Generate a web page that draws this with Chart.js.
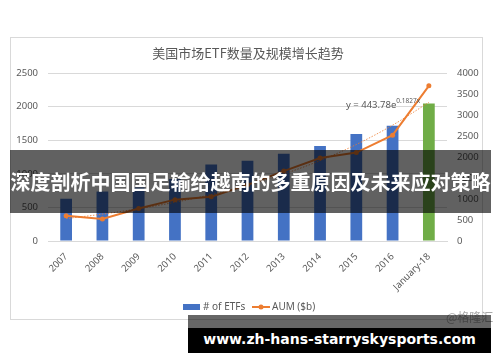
<!DOCTYPE html>
<html>
<head>
<meta charset="utf-8">
<script src="https://cdn.jsdelivr.net/npm/chart.js@4/dist/chart.umd.min.js"></script>
<style>
  html, body { margin:0; padding:0; background:#fff; }
  #wrap { position:relative; width:500px; height:362px; overflow:hidden; }
  #frame { position:absolute; left:10px; top:37px; width:473px; height:283px; border:1px solid #d9d9d9; box-sizing:border-box; }
  canvas { position:absolute; left:0; top:0; }
  .banner { position:absolute; left:10px; top:150px; width:481px; height:63px; background:rgba(0,0,0,0.62);
    color:#fff; font:bold 20px "Noto Sans CJK SC", sans-serif; line-height:63px; text-align:center; white-space:nowrap; }
  .mark { position:absolute; left:446px; top:308px; color:#aaa; font:12px "Noto Sans CJK SC", sans-serif; }
  .strip { position:absolute; left:188px; top:315px; width:303px; height:13px; background:rgba(0,0,0,0.6); }
  .site { position:absolute; left:188px; top:328px; width:303px; height:25px; background:#000; color:#fff;
    font:bold 14px "DejaVu Sans", sans-serif; line-height:23px; text-align:center; white-space:nowrap; }
</style>
</head>
<body>
<div id="wrap">
  <div id="frame"></div>
  <canvas id="etfChart" width="500" height="362"></canvas>
  <div class="banner">深度剖析中国国足输给越南的多重原因及未来应对策略</div>
  <div class="mark">@格隆汇</div>
  <div class="strip"></div>
  <div class="site">www.zh-hans-starryskysports.com</div>
</div>
<script>
// Data
const categories = ['2007','2008','2009','2010','2011','2012','2013','2014','2015','2016','January-18'];
const etfCount   = [629, 736, 797, 923, 1139, 1194, 1298, 1413, 1592, 1716, 2045];
const aum        = [600, 525, 775, 985, 1055, 1337, 1665, 1975, 2105, 2520, 3695];
const aumTrend   = [533, 640, 769, 922, 1107, 1329, 1595, 1914, 2298, 2758, 3300];
const leftTicks  = [0, 500, 1000, 1500, 2000, 2500];
const rightTicks = [0, 500, 1000, 1500, 2000, 2500, 3000, 3500, 4000];

const blue = '#4472C4', green = '#70AD47', orange = '#ED7D31', grey = '#595959';
const font = '"Noto Sans", sans-serif';

// title, equation and legend
const extras = {
  id: 'extras',
  afterDraw(chart) {
    const c = chart.ctx;
    c.save();
    c.fillStyle = grey;
    c.textAlign = 'center';
    c.textBaseline = 'middle';
    c.font = '13px "Noto Sans CJK SC", sans-serif';
    c.fillText('美国市场ETF数量及规模增长趋势', 248, 53);

    c.textAlign = 'left';
    c.textBaseline = 'alphabetic';
    c.font = '9.5px ' + font;
    c.fillText('y = 443.78e', 346, 108);
    const w = c.measureText('y = 443.78e').width;
    c.font = '6.5px ' + font;
    c.fillText('0.1827x', 346 + w, 103);

    // legend
    const ds = chart.data.datasets;
    c.textBaseline = 'middle';
    c.font = '10px ' + font;
    c.fillStyle = blue;
    c.fillRect(183, 304, 17, 6);
    c.fillStyle = grey;
    c.fillText(ds[0].label, 203, 307);
    c.strokeStyle = orange;
    c.lineWidth = 2;
    c.beginPath(); c.moveTo(252, 307); c.lineTo(270, 307); c.stroke();
    c.fillStyle = orange;
    c.beginPath(); c.arc(261, 307, 2.5, 0, Math.PI * 2); c.fill();
    c.fillStyle = grey;
    c.fillText(ds[1].label, 272, 307);
    c.restore();
  }
};

new Chart(document.getElementById('etfChart'), {
  type: 'bar',
  data: {
    labels: categories,
    datasets: [
      { type:'bar', label:'# of ETFs', data:etfCount, yAxisID:'y',
        backgroundColor: categories.map((_, i) => i === categories.length - 1 ? green : blue),
        barPercentage:0.9, categoryPercentage:0.36, order:3 },
      { type:'line', label:'AUM ($b)', data:aum, yAxisID:'y1', borderColor:orange, backgroundColor:orange,
        borderWidth:2, pointRadius:2.5, pointBackgroundColor:orange, pointBorderWidth:0, tension:0, order:1 },
      { type:'line', label:'trend', data:aumTrend, yAxisID:'y1', borderColor:'rgba(237,125,49,0.8)', borderWidth:1,
        borderDash:[1.5,1.5], pointRadius:0, cubicInterpolationMode:'monotone', order:2 }
    ]
  },
  options: {
    responsive:false,
    animation:false,
    layout:{ padding:{ left:10, right:10, top:73, bottom:0 } },
    plugins:{ legend:{ display:false }, tooltip:{ enabled:false } },
    scales:{
      x:{
        grid:{ display:false },
        border:{ color:'#d9d9d9' },
        ticks:{ color:grey, font:{ family:font, size:9.5 }, maxRotation:45, minRotation:45, padding:2 },
        afterFit(s) { s.height = 121; }
      },
      y:{
        position:'left', min:0, max:2500,
        afterBuildTicks(s) { s.ticks = leftTicks.map(v => ({ value:v })); },
        grid:{ color:'#d9d9d9', drawTicks:false },
        border:{ display:false },
        ticks:{ color:grey, font:{ family:font, size:9.5 }, padding:10, callback:v => String(v) },
        afterFit(s) { s.width = 38; }
      },
      y1:{
        position:'right', min:0, max:4000,
        afterBuildTicks(s) { s.ticks = rightTicks.map(v => ({ value:v })); },
        grid:{ display:false, drawTicks:false },
        border:{ display:false },
        ticks:{ color:grey, font:{ family:font, size:9.5 }, padding:10, callback:v => String(v) },
        afterFit(s) { s.width = 43; }
      }
    }
  },
  plugins:[extras]
});
</script>
</body>
</html>
